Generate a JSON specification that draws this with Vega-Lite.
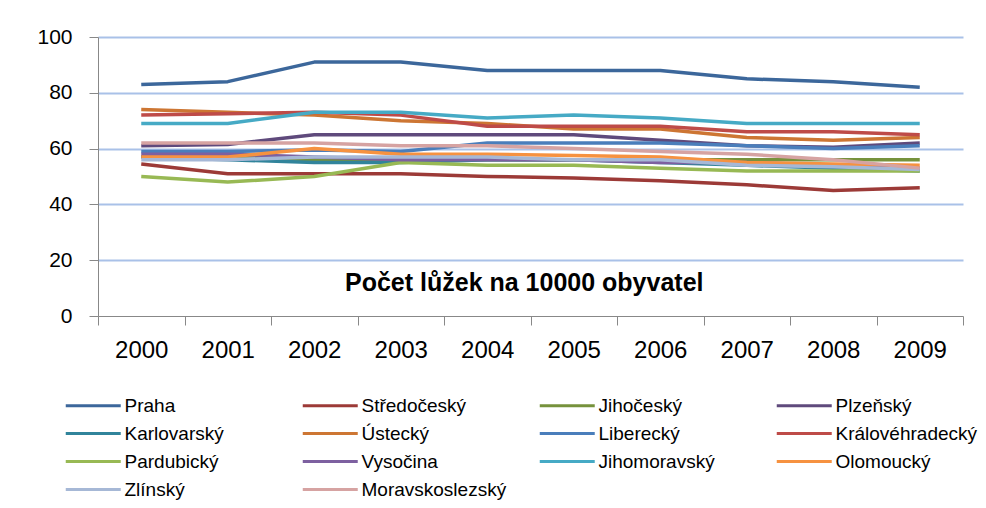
{
  "$schema": "https://vega.github.io/schema/vega-lite/v6.json",
  "width": 865,
  "height": 279,
  "autosize": {"type": "none"},
  "padding": {"left": 98, "top": 37, "right": 23, "bottom": 192},
  "background": "white",
  "config": {"view": {"stroke": null}, "font": "Liberation Sans"},
  "datasets": {
    "beds": [
      {"region": "Praha", "year": "2000", "value": 83}, {"region": "Praha", "year": "2001", "value": 84}, {"region": "Praha", "year": "2002", "value": 91}, {"region": "Praha", "year": "2003", "value": 91}, {"region": "Praha", "year": "2004", "value": 88}, {"region": "Praha", "year": "2005", "value": 88}, {"region": "Praha", "year": "2006", "value": 88}, {"region": "Praha", "year": "2007", "value": 85}, {"region": "Praha", "year": "2008", "value": 84}, {"region": "Praha", "year": "2009", "value": 82},
      {"region": "Středočeský", "year": "2000", "value": 54.5}, {"region": "Středočeský", "year": "2001", "value": 51}, {"region": "Středočeský", "year": "2002", "value": 51}, {"region": "Středočeský", "year": "2003", "value": 51}, {"region": "Středočeský", "year": "2004", "value": 50}, {"region": "Středočeský", "year": "2005", "value": 49.5}, {"region": "Středočeský", "year": "2006", "value": 48.5}, {"region": "Středočeský", "year": "2007", "value": 47}, {"region": "Středočeský", "year": "2008", "value": 45}, {"region": "Středočeský", "year": "2009", "value": 46},
      {"region": "Jihočeský", "year": "2000", "value": 57}, {"region": "Jihočeský", "year": "2001", "value": 57}, {"region": "Jihočeský", "year": "2002", "value": 56}, {"region": "Jihočeský", "year": "2003", "value": 56}, {"region": "Jihočeský", "year": "2004", "value": 56}, {"region": "Jihočeský", "year": "2005", "value": 56}, {"region": "Jihočeský", "year": "2006", "value": 56}, {"region": "Jihočeský", "year": "2007", "value": 56}, {"region": "Jihočeský", "year": "2008", "value": 56}, {"region": "Jihočeský", "year": "2009", "value": 56},
      {"region": "Plzeňský", "year": "2000", "value": 61}, {"region": "Plzeňský", "year": "2001", "value": 61.5}, {"region": "Plzeňský", "year": "2002", "value": 65}, {"region": "Plzeňský", "year": "2003", "value": 65}, {"region": "Plzeňský", "year": "2004", "value": 65}, {"region": "Plzeňský", "year": "2005", "value": 65}, {"region": "Plzeňský", "year": "2006", "value": 63}, {"region": "Plzeňský", "year": "2007", "value": 61}, {"region": "Plzeňský", "year": "2008", "value": 60.5}, {"region": "Plzeňský", "year": "2009", "value": 62},
      {"region": "Karlovarský", "year": "2000", "value": 57}, {"region": "Karlovarský", "year": "2001", "value": 56}, {"region": "Karlovarský", "year": "2002", "value": 55}, {"region": "Karlovarský", "year": "2003", "value": 55}, {"region": "Karlovarský", "year": "2004", "value": 56}, {"region": "Karlovarský", "year": "2005", "value": 56}, {"region": "Karlovarský", "year": "2006", "value": 55}, {"region": "Karlovarský", "year": "2007", "value": 54}, {"region": "Karlovarský", "year": "2008", "value": 53}, {"region": "Karlovarský", "year": "2009", "value": 52},
      {"region": "Ústecký", "year": "2000", "value": 74}, {"region": "Ústecký", "year": "2001", "value": 73}, {"region": "Ústecký", "year": "2002", "value": 72}, {"region": "Ústecký", "year": "2003", "value": 70}, {"region": "Ústecký", "year": "2004", "value": 69}, {"region": "Ústecký", "year": "2005", "value": 67}, {"region": "Ústecký", "year": "2006", "value": 67}, {"region": "Ústecký", "year": "2007", "value": 64}, {"region": "Ústecký", "year": "2008", "value": 63}, {"region": "Ústecký", "year": "2009", "value": 64},
      {"region": "Liberecký", "year": "2000", "value": 59}, {"region": "Liberecký", "year": "2001", "value": 59}, {"region": "Liberecký", "year": "2002", "value": 59.5}, {"region": "Liberecký", "year": "2003", "value": 59}, {"region": "Liberecký", "year": "2004", "value": 62}, {"region": "Liberecký", "year": "2005", "value": 62}, {"region": "Liberecký", "year": "2006", "value": 62}, {"region": "Liberecký", "year": "2007", "value": 61}, {"region": "Liberecký", "year": "2008", "value": 60}, {"region": "Liberecký", "year": "2009", "value": 61},
      {"region": "Královéhradecký", "year": "2000", "value": 72}, {"region": "Královéhradecký", "year": "2001", "value": 72.5}, {"region": "Královéhradecký", "year": "2002", "value": 73}, {"region": "Královéhradecký", "year": "2003", "value": 72}, {"region": "Královéhradecký", "year": "2004", "value": 68}, {"region": "Královéhradecký", "year": "2005", "value": 68}, {"region": "Královéhradecký", "year": "2006", "value": 68}, {"region": "Královéhradecký", "year": "2007", "value": 66}, {"region": "Královéhradecký", "year": "2008", "value": 66}, {"region": "Královéhradecký", "year": "2009", "value": 65},
      {"region": "Pardubický", "year": "2000", "value": 50}, {"region": "Pardubický", "year": "2001", "value": 48}, {"region": "Pardubický", "year": "2002", "value": 50}, {"region": "Pardubický", "year": "2003", "value": 55}, {"region": "Pardubický", "year": "2004", "value": 54}, {"region": "Pardubický", "year": "2005", "value": 54}, {"region": "Pardubický", "year": "2006", "value": 53}, {"region": "Pardubický", "year": "2007", "value": 52}, {"region": "Pardubický", "year": "2008", "value": 52}, {"region": "Pardubický", "year": "2009", "value": 52},
      {"region": "Vysočina", "year": "2000", "value": 58}, {"region": "Vysočina", "year": "2001", "value": 58}, {"region": "Vysočina", "year": "2002", "value": 57}, {"region": "Vysočina", "year": "2003", "value": 56}, {"region": "Vysočina", "year": "2004", "value": 56}, {"region": "Vysočina", "year": "2005", "value": 56}, {"region": "Vysočina", "year": "2006", "value": 55}, {"region": "Vysočina", "year": "2007", "value": 55}, {"region": "Vysočina", "year": "2008", "value": 54}, {"region": "Vysočina", "year": "2009", "value": 53},
      {"region": "Jihomoravský", "year": "2000", "value": 69}, {"region": "Jihomoravský", "year": "2001", "value": 69}, {"region": "Jihomoravský", "year": "2002", "value": 73}, {"region": "Jihomoravský", "year": "2003", "value": 73}, {"region": "Jihomoravský", "year": "2004", "value": 71}, {"region": "Jihomoravský", "year": "2005", "value": 72}, {"region": "Jihomoravský", "year": "2006", "value": 71}, {"region": "Jihomoravský", "year": "2007", "value": 69}, {"region": "Jihomoravský", "year": "2008", "value": 69}, {"region": "Jihomoravský", "year": "2009", "value": 69},
      {"region": "Olomoucký", "year": "2000", "value": 57}, {"region": "Olomoucký", "year": "2001", "value": 57}, {"region": "Olomoucký", "year": "2002", "value": 60}, {"region": "Olomoucký", "year": "2003", "value": 58}, {"region": "Olomoucký", "year": "2004", "value": 58}, {"region": "Olomoucký", "year": "2005", "value": 57.5}, {"region": "Olomoucký", "year": "2006", "value": 57}, {"region": "Olomoucký", "year": "2007", "value": 55}, {"region": "Olomoucký", "year": "2008", "value": 54.5}, {"region": "Olomoucký", "year": "2009", "value": 54},
      {"region": "Zlínský", "year": "2000", "value": 56}, {"region": "Zlínský", "year": "2001", "value": 56}, {"region": "Zlínský", "year": "2002", "value": 57}, {"region": "Zlínský", "year": "2003", "value": 57}, {"region": "Zlínský", "year": "2004", "value": 57}, {"region": "Zlínský", "year": "2005", "value": 56}, {"region": "Zlínský", "year": "2006", "value": 56}, {"region": "Zlínský", "year": "2007", "value": 54}, {"region": "Zlínský", "year": "2008", "value": 53.5}, {"region": "Zlínský", "year": "2009", "value": 52.5},
      {"region": "Moravskoslezský", "year": "2000", "value": 62}, {"region": "Moravskoslezský", "year": "2001", "value": 62}, {"region": "Moravskoslezský", "year": "2002", "value": 62}, {"region": "Moravskoslezský", "year": "2003", "value": 61}, {"region": "Moravskoslezský", "year": "2004", "value": 61}, {"region": "Moravskoslezský", "year": "2005", "value": 60}, {"region": "Moravskoslezský", "year": "2006", "value": 59}, {"region": "Moravskoslezský", "year": "2007", "value": 58}, {"region": "Moravskoslezský", "year": "2008", "value": 56}, {"region": "Moravskoslezský", "year": "2009", "value": 53}
    ],
    "caption": [{"label": "Počet lůžek na 10000 obyvatel"}]
  },
  "layer": [
    {
      "data": {"name": "beds"},
      "mark": {"type": "line", "strokeWidth": 3.5, "strokeCap": "butt", "strokeJoin": "round"},
      "encoding": {
        "x": {
          "field": "year", "type": "ordinal", "bandPosition": 0.5,
          "scale": {"type": "band", "paddingInner": 0, "paddingOuter": 0},
          "axis": {"title": null, "tickBand": "extent", "grid": false, "labelAngle": 0, "domainColor": "#888888", "tickColor": "#888888", "tickSize": 9, "labelFontSize": 24, "labelPadding": 13, "labelColor": "#000000"}
        },
        "y": {
          "field": "value", "type": "quantitative",
          "scale": {"domain": [0, 100], "nice": false, "zero": true},
          "axis": {"title": null, "values": [0, 20, 40, 60, 80, 100], "grid": true, "gridColor": {"condition": {"test": "datum.value === 0", "value": "#ffffff"}, "value": "#a9c1e8"}, "gridWidth": 2, "domainColor": "#888888", "tickColor": "#888888", "tickSize": 9, "labelFontSize": 21, "labelPadding": 17, "labelColor": "#000000"}
        },
        "color": {
          "field": "region", "type": "nominal", "sort": null,
          "scale": {
            "domain": ["Praha", "Středočeský", "Jihočeský", "Plzeňský", "Karlovarský", "Ústecký", "Liberecký", "Královéhradecký", "Pardubický", "Vysočina", "Jihomoravský", "Olomoucký", "Zlínský", "Moravskoslezský"],
            "range": ["#3c679b", "#9c3a37", "#76923c", "#5f4a7c", "#31849b", "#cd7633", "#4a7ebb", "#be4b48", "#98b954", "#7d60a0", "#46aac5", "#f69240", "#a6b8d6", "#d6a3a2"]
          },
          "legend": {"title": null, "orient": "none", "legendX": -34, "legendY": 353, "direction": "horizontal", "columns": 4, "gridAlign": "all", "symbolType": "M-1,0H3", "symbolSize": 756, "symbolStrokeWidth": 3, "labelFontSize": 19, "labelOffset": 29.5, "columnPadding": 26, "rowPadding": 2, "labelLimit": 300, "labelColor": "#000000"}
        }
      }
    },
    {
      "data": {"name": "caption"},
      "mark": {"type": "text", "fontSize": 25, "fontWeight": "bold", "color": "#000000", "dx": 37, "align": "center", "baseline": "middle"},
      "encoding": {
        "x": {"datum": "2004", "type": "ordinal", "bandPosition": 0.5},
        "y": {"datum": 12, "type": "quantitative"},
        "text": {"field": "label"}
      }
    }
  ]
}
